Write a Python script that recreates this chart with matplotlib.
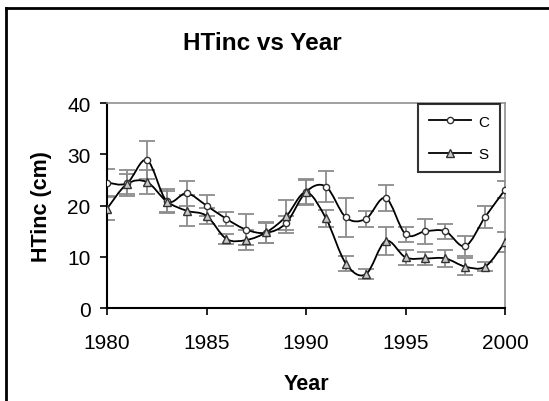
import numpy as np
import matplotlib.pyplot as plt
from matplotlib.path import Path
from matplotlib.patches import PathPatch
from matplotlib.lines import Line2D

plt.rcParams['font.family'] = ['Liberation Sans', 'DejaVu Sans']

years = list(range(1980, 2001))
c_vals = [24.5, 24.4, 28.9, 20.9, 22.4, 20.0, 17.4, 15.3, 14.7, 16.6, 22.7,
          23.7, 17.7, 17.4, 21.5, 14.4, 15.0, 15.0, 12.1, 17.8, 23.1]
c_err = [2.7, 2.5, 3.8, 2.3, 2.4, 2.0, 1.4, 3.0, 2.0, 1.3, 2.4,
         3.0, 3.8, 1.6, 2.5, 1.5, 2.4, 1.5, 2.0, 2.2, 1.7]
s_vals = [19.4, 24.2, 24.6, 20.8, 19.0, 18.0, 13.5, 13.3, 14.8, 17.9, 22.6,
          17.5, 8.7, 6.6, 13.1, 9.9, 9.7, 9.7, 8.1, 8.1, 12.9]
s_err = [2.3, 2.0, 2.4, 2.0, 3.0, 1.5, 1.0, 2.0, 2.0, 3.2, 2.4,
         1.6, 1.4, 1.0, 2.8, 1.5, 1.2, 1.7, 1.7, 0.9, 2.0]


def smooth_path(xs, ys):
    # Catmull-Rom style bezier, like Excel's smoothed line
    p = np.column_stack([xs, ys]).astype(float)
    n = len(p)
    verts = [p[0]]
    codes = [Path.MOVETO]
    for i in range(n - 1):
        p0 = p[i - 1] if i > 0 else p[i]
        p3 = p[i + 2] if i + 2 < n else p[i + 1]
        c1 = p[i] + (p[i + 1] - p0) / 6.0
        c2 = p[i + 1] - (p3 - p[i]) / 6.0
        verts += [c1, c2, p[i + 1]]
        codes += [Path.CURVE4] * 3
    return Path(verts, codes)


fig = plt.figure(figsize=(5.49, 4.02), dpi=100)
ax = fig.add_axes([0.195, 0.231, 0.725, 0.510])

err_kw = dict(fmt='none', ecolor='#8c8c8c', elinewidth=1.3, capsize=6,
              capthick=1.3, zorder=1)
ax.errorbar(years, c_vals, yerr=c_err, **err_kw)
ax.errorbar(years, s_vals, yerr=s_err, **err_kw)

for vals in (c_vals, s_vals):
    ax.add_patch(PathPatch(smooth_path(years, vals), facecolor='none',
                           edgecolor='black', lw=1.3, zorder=2))

ax.plot(years, c_vals, linestyle='none', marker='o', markersize=4.5,
        markerfacecolor='white', markeredgecolor='#333333', mew=1.0, zorder=3)
ax.plot(years, s_vals, linestyle='none', marker='^', markersize=5.5,
        markerfacecolor='#c8c8c8', markeredgecolor='#333333', mew=1.0, zorder=3)

ax.set_xlim(1980, 2000)
ax.set_ylim(0, 40)
ax.set_xticks([1980, 1985, 1990, 1995, 2000])
ax.set_yticks([0, 10, 20, 30, 40])
ax.tick_params(axis='both', labelsize=15, length=5, width=1.2, direction='out',
               color='black')
ax.tick_params(axis='x', pad=13)
ax.tick_params(axis='y', pad=7)

for side in ('left', 'bottom'):
    ax.spines[side].set_color('black')
    ax.spines[side].set_linewidth(1.5)
for side in ('top', 'right'):
    ax.spines[side].set_color('#909090')
    ax.spines[side].set_linewidth(1.2)

ax.set_xlabel('Year', fontsize=15.5, fontweight='bold', labelpad=15)
ax.set_ylabel('HTinc (cm)', fontsize=15.5, fontweight='bold', labelpad=11)
fig.text(0.478, 0.893, 'HTinc vs Year', fontsize=17.5, fontweight='bold',
         ha='center', va='center')

handles = [
    Line2D([], [], color='black', lw=1.3, marker='o', markersize=4.5,
           markerfacecolor='white', markeredgecolor='#333333'),
    Line2D([], [], color='black', lw=1.3, marker='^', markersize=5.5,
           markerfacecolor='#c8c8c8', markeredgecolor='#333333'),
]
leg = ax.legend(handles, ['C', 'S'], loc='upper right',
                bbox_to_anchor=(0.987, 0.995), fontsize=11, frameon=True,
                fancybox=False, edgecolor='black', handlelength=2.8,
                labelspacing=1.2, borderpad=0.7, handletextpad=0.45,
                borderaxespad=0)
leg.get_frame().set_linewidth(1.5)
leg.set_zorder(5)

# outer chart border (top and left edges visible)
fig.add_artist(Line2D([6 / 549, 6 / 549], [0, 1 - 8.5 / 402],
                      transform=fig.transFigure, color='black', lw=2))
fig.add_artist(Line2D([6 / 549, 1], [1 - 8.5 / 402, 1 - 8.5 / 402],
                      transform=fig.transFigure, color='black', lw=2))

fig.savefig('out.png', dpi=100)
